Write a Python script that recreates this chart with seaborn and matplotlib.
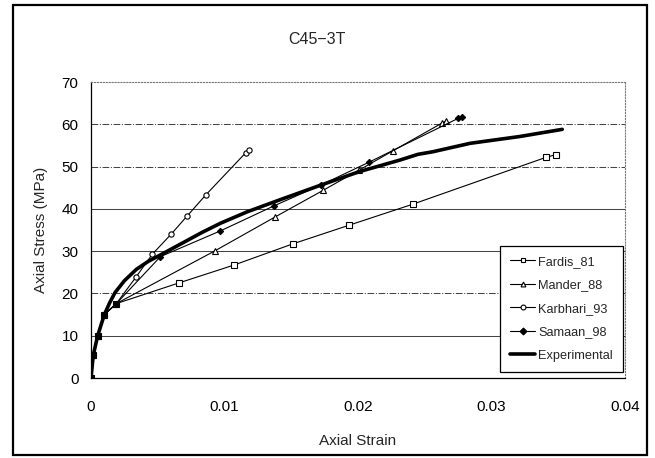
import matplotlib
matplotlib.use('Agg')
import matplotlib.pyplot as plt
from matplotlib.patches import Rectangle
from matplotlib.ticker import FuncFormatter
import numpy as np
import pandas as pd
import seaborn as sns


# values
fardis_strain = [0, 0.00017, 0.0005, 0.001, 0.0019, 0.0066, 0.0107, 0.0151, 0.0193, 0.0241, 0.0341, 0.0348]
fardis_stress = [0, 5.4, 10.0, 15.0, 17.6, 22.5, 26.7, 31.7, 36.1, 41.1, 52.2, 52.8]

mander_strain = [0, 0.00017, 0.0005, 0.001, 0.0019, 0.0093, 0.0138, 0.0174, 0.0201, 0.0226, 0.0263, 0.0266]
mander_stress = [0, 5.4, 10.0, 15.0, 17.6, 30.1, 38.1, 44.4, 49.2, 53.7, 60.3, 60.8]

karbhari_strain = [0, 0.00017, 0.0005, 0.001, 0.0019, 0.0034, 0.0046, 0.0060, 0.0072, 0.0086, 0.0116, 0.0118]
karbhari_stress = [0, 5.4, 10.0, 15.0, 17.6, 24.0, 29.3, 34.0, 38.3, 43.3, 53.3, 53.9]

samaan_strain = [0, 0.00017, 0.0005, 0.001, 0.0019, 0.0052, 0.0097, 0.0137, 0.0172, 0.0208, 0.0275, 0.0278]
samaan_stress = [0, 5.4, 10.0, 15.0, 17.6, 28.7, 34.8, 40.7, 45.6, 51.0, 61.4, 61.8]

exp_strain = [0, 0.00017, 0.0005, 0.001, 0.0014, 0.0018, 0.0025, 0.0034, 0.0043, 0.0052, 0.0069,
              0.0083, 0.0097, 0.0117, 0.0142, 0.0172, 0.0201, 0.0231, 0.0245, 0.0256, 0.0284, 0.0321, 0.0353]
exp_stress = [0, 5.4, 10.0, 15.0, 17.8, 20.2, 23.0, 25.7, 27.6, 29.1, 32.0,
              34.4, 36.6, 39.3, 42.2, 45.6, 48.8, 51.5, 52.9, 53.5, 55.5, 57.1, 58.8]

y_ticks = [0, 10, 20, 30, 40, 50, 60, 70]
x_ticks = [0, 0.01, 0.02, 0.03, 0.04]


sns.set_style('white')
plt.rcParams['font.family'] = ['Liberation Sans', 'DejaVu Sans']

fig = plt.figure(figsize=(6.55, 4.58), dpi=100)
ax = fig.add_axes([91/655, 1-378/458, 534/655, 296/458])

# gridlines: some solid, some dash-dot like the scan
for v in y_ticks[1:-1]:
    ls = '-.' if v in (20, 50, 60) else '-'
    ax.axhline(v, color='#444444', lw=0.75, ls=ls, zorder=0)

common = dict(color='black', lw=0.8, sort=False, estimator=None, ax=ax)
sns.lineplot(x=fardis_strain, y=fardis_stress, marker='s', ms=4, mfc='white', mec='black', mew=0.8,
             label='Fardis_81', **common)
sns.lineplot(x=mander_strain, y=mander_stress, marker='^', ms=4.5, mfc='white', mec='black', mew=0.8,
             label='Mander_88', **common)
sns.lineplot(x=karbhari_strain, y=karbhari_stress, marker='o', ms=3.8, mfc='white', mec='black', mew=0.8,
             label='Karbhari_93', **common)
sns.lineplot(x=samaan_strain, y=samaan_stress, marker='D', ms=3.2, mfc='black', mec='black', mew=0.8,
             label='Samaan_98', **common)
sns.lineplot(x=exp_strain, y=exp_stress, color='black', lw=2.6, sort=False, estimator=None, ax=ax,
             label='Experimental')

ax.set_xlim(0, 0.04)
ax.set_ylim(0, 70)
ax.set_xticks(x_ticks)
ax.set_yticks(y_ticks)
ax.xaxis.set_major_formatter(FuncFormatter(lambda v, p: '{:g}'.format(round(v, 4))))
ax.tick_params(axis='both', length=0, labelsize=11, colors='black')
ax.tick_params(axis='x', pad=16)
ax.tick_params(axis='y', pad=9)

for s in ['top', 'right']:
    ax.spines[s].set_color('#777777')
    ax.spines[s].set_linestyle(':')
    ax.spines[s].set_linewidth(0.8)
for s in ['left', 'bottom']:
    ax.spines[s].set_color('black')
    ax.spines[s].set_linewidth(0.9)

ax.set_xlabel('Axial Strain', fontsize=11, labelpad=14)
ax.set_ylabel('Axial Stress (MPa)', fontsize=11, labelpad=10)

leg = ax.legend(loc='lower right', bbox_to_anchor=(0.996, 0.02), fontsize=9.2, frameon=True,
                fancybox=False, edgecolor='black', labelspacing=0.9, handlelength=2.0,
                handletextpad=0.2, borderpad=0.8, borderaxespad=0)
leg.get_frame().set_linewidth(0.9)
leg.get_frame().set_alpha(1)
leg._legend_box.align = 'left'
for h in leg.legend_handles:
    h.set_markersize(3.5)
leg.set_bbox_to_anchor((0.996, 0.02))

fig.text(317/655, 1-40/458, 'C45\u22123T', ha='center', va='center', fontsize=11.5)

# chart area border
fig.patches.append(Rectangle((13/655, 3/458), 634/655, 450/458, transform=fig.transFigure,
                             fill=False, edgecolor='black', lw=1.6))

fig.savefig('out.png', dpi=100)
